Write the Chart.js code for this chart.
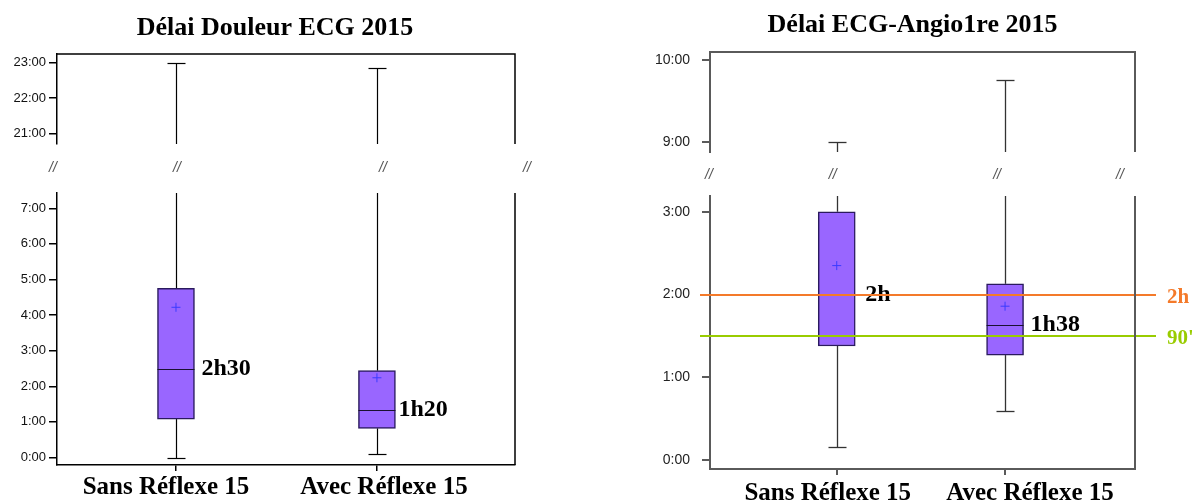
<!DOCTYPE html>
<html lang="fr">
<head>
<meta charset="utf-8">
<title>Délais 2015</title>
<script src="https://cdn.jsdelivr.net/npm/chart.js@4.4.1/dist/chart.umd.min.js"></script>
<style>
  html, body { margin: 0; padding: 0; background: #fff; overflow: hidden; }
  .panel { position: absolute; top: 0; width: 596px; height: 502px; }
  #left { left: 0; }
  #right { left: 596px; }
</style>
</head>
<body>
<div class="panel" id="left"><canvas id="cLeft" width="596" height="502"></canvas></div>
<div class="panel" id="right"><canvas id="cRight" width="596" height="502"></canvas></div>
<script>
// Groupes comparés
const categories = ['Sans Réflexe 15', 'Avec Réflexe 15'];

// Délai douleur -> ECG, en heures
const douleurMin    = [0.00, 0.09];
const douleurQ1     = [1.08, 0.82];
const douleurMedian = [2.50, 1.333];
const douleurQ3     = [4.75, 2.44];
const douleurMax    = [23.00, 22.85];
const douleurMean   = [4.22, 2.24];
const douleurMedianText = ['2h30', '1h20'];
const douleurTicksLow  = [0, 1, 2, 3, 4, 5, 6, 7];
const douleurTicksHigh = [21, 22, 23];

// Délai ECG -> angioplastie primaire, en heures
const angioMin    = [0.16, 0.59];
const angioQ1     = [1.38, 1.27];
const angioMedian = [2.00, 1.633];
const angioQ3     = [3.00, 2.13];
const angioMax    = [9.00, 9.76];
const angioMean   = [2.35, 1.86];
const angioMedianText = ['2h', '1h38'];
const angioTicksLow  = [0, 1, 2, 3];
const angioTicksHigh = [9, 10];
const angioTargetValues = [2, 1.5];
const angioTargetText   = ['2h', "90'"];

const SERIF = "'Liberation Serif', 'Times New Roman', serif";
const SANS = "'Liberation Sans', Arial, sans-serif";

const hourLabel = v => v + ':00';
const fixedTicks = values => scale => { scale.ticks = values.map(v => ({ value: v })); };

// Boîtes à moustaches : moustaches, médianes, libellés, cadre et coupures d'axe
const boxPlotPlugin = {
  id: 'boxPlot',
  beforeDatasetsDraw(chart, args, o) {
    const { ctx, scales: { x, yLow, yHigh } } = chart;
    const seg = (x1, y1, x2, y2) => { ctx.beginPath(); ctx.moveTo(x1, y1); ctx.lineTo(x2, y2); ctx.stroke(); };
    const cap = o.capWidth / 2;
    ctx.save();
    ctx.strokeStyle = o.whiskerColor;
    ctx.lineWidth = o.whiskerWidth;
    o.q3.forEach((q3, i) => {
      const cx = Math.round(x.getPixelForValue(i + 1)) + 0.5;
      const max = o.max[i];
      if (max > yLow.max) {
        seg(cx, yLow.getPixelForValue(q3), cx, yLow.top);
        const py = Math.round(yHigh.getPixelForValue(max)) + 0.5;
        seg(cx, yHigh.bottom, cx, py);
        seg(cx - cap, py, cx + cap, py);
      } else {
        const py = Math.round(yLow.getPixelForValue(max)) + 0.5;
        seg(cx, yLow.getPixelForValue(q3), cx, py);
        seg(cx - cap, py, cx + cap, py);
      }
      const pMin = Math.round(yLow.getPixelForValue(o.min[i])) + 0.5;
      seg(cx, yLow.getPixelForValue(o.q1[i]), cx, pMin);
      seg(cx - cap, pMin, cx + cap, pMin);
    });
    ctx.restore();
  },
  afterDatasetsDraw(chart, args, o) {
    const { ctx, chartArea, scales: { yLow } } = chart;
    const bars = chart.getDatasetMeta(0).data;
    ctx.save();
    // médianes
    ctx.strokeStyle = o.medianColor;
    ctx.lineWidth = 1.2;
    o.median.forEach((m, i) => {
      const bar = bars[i];
      const py = Math.round(yLow.getPixelForValue(m)) + 0.5;
      ctx.beginPath();
      ctx.moveTo(bar.x - bar.width / 2, py);
      ctx.lineTo(bar.x + bar.width / 2, py);
      ctx.stroke();
    });
    // valeurs des médianes
    ctx.fillStyle = '#000';
    ctx.font = 'bold 24px ' + SERIF;
    ctx.textAlign = 'left';
    ctx.textBaseline = 'alphabetic';
    o.median.forEach((m, i) => {
      const bar = bars[i];
      ctx.fillText(o.medianText[i], bar.x + bar.width / 2 + o.labelGap[i], yLow.getPixelForValue(m) + 6);
    });
    // objectifs
    (o.targets || []).forEach(t => {
      const py = Math.round(yLow.getPixelForValue(t.value));
      ctx.strokeStyle = t.color;
      ctx.lineWidth = 2;
      ctx.beginPath();
      ctx.moveTo(chartArea.left - 10, py);
      ctx.lineTo(chartArea.right + 21, py);
      ctx.stroke();
      ctx.fillStyle = t.color;
      ctx.font = 'bold 21px ' + SERIF;
      ctx.fillText(t.text, chartArea.right + 32, py + 8);
    });
    ctx.restore();
  },
  afterDraw(chart, args, o) {
    const { ctx, chartArea, scales: { x, yLow, yHigh } } = chart;
    ctx.save();
    // cadre : bord supérieur et bord droit, interrompu à la coupure
    ctx.strokeStyle = o.frameColor;
    ctx.lineWidth = o.frameWidth;
    ctx.beginPath();
    ctx.moveTo(chartArea.left, yHigh.top);
    ctx.lineTo(chartArea.right, yHigh.top);
    ctx.lineTo(chartArea.right, yHigh.bottom);
    ctx.moveTo(chartArea.right, yLow.top);
    ctx.lineTo(chartArea.right, chartArea.bottom);
    ctx.stroke();
    // marques de coupure
    const midGap = (yHigh.bottom + yLow.top) / 2;
    ctx.fillStyle = '#555';
    ctx.font = 'italic 14px ' + SANS;
    ctx.textAlign = 'center';
    ctx.textBaseline = 'middle';
    const anchors = [chartArea.left, x.getPixelForValue(1), x.getPixelForValue(2), chartArea.right];
    anchors.forEach((ax, i) => ctx.fillText('//', ax + o.breakShift[i], midGap + o.breakDy));
    // titre
    ctx.fillStyle = '#000';
    ctx.font = 'bold 26px ' + SERIF;
    ctx.textBaseline = 'alphabetic';
    ctx.fillText(o.title, o.titleX, o.titleBaseline);
    // libellés des groupes
    ctx.font = 'bold 25px ' + SERIF;
    categories.forEach((c, i) => {
      ctx.fillText(c, x.getPixelForValue(i + 1) + o.catShift[i], o.catBaseline);
    });
    ctx.restore();
  }
};

function buildChart(canvasId, s) {
  const yCommon = (ticks, color) => ({
    type: 'linear',
    position: 'left',
    stack: 'hours',
    afterBuildTicks: fixedTicks(ticks),
    afterFit: sc => { sc.width = s.axisWidth; },
    ticks: { callback: hourLabel, color: s.tickColor, padding: s.tickPadding,
             font: { family: SANS, size: s.tickFont } },
    grid: { drawOnChartArea: false, drawTicks: true, tickLength: 8, color: color, lineWidth: s.frameWidth },
    border: { display: true, color: color, width: s.frameWidth }
  });
  return new Chart(document.getElementById(canvasId), {
    type: 'bar',
    data: {
      datasets: [
        {
          // boîte Q1–Q3
          type: 'bar',
          order: 2,
          data: s.q1.map((q, i) => ({ x: i + 1, y: [q, s.q3[i]] })),
          yAxisID: 'yLow',
          backgroundColor: '#9966ff',
          borderColor: '#2a1a5e',
          borderWidth: 1.5,
          borderSkipped: false,
          barThickness: 37
        },
        {
          // moyenne
          type: 'scatter',
          order: 1,
          data: s.mean.map((m, i) => ({ x: i + 1, y: m })),
          yAxisID: 'yLow',
          pointStyle: 'cross',
          pointRadius: 4.5,
          pointBorderColor: '#3b3bff',
          borderColor: '#3b3bff',
          backgroundColor: '#3b3bff',
          pointBorderWidth: 1,
          borderWidth: 1
        }
      ]
    },
    options: {
      responsive: false,
      animation: false,
      events: [],
      layout: { padding: { top: s.padTop, right: s.padRight, left: 0, bottom: 0 } },
      plugins: {
        legend: { display: false },
        tooltip: { enabled: false },
        boxPlot: {
          q1: s.q1, q3: s.q3, min: s.min, max: s.max, median: s.median, medianText: s.medianText,
          targets: s.targets, capWidth: 18, whiskerColor: s.whiskerColor, whiskerWidth: s.whiskerWidth,
          medianColor: '#1a1030', labelGap: s.labelGap, frameColor: s.frameColor, frameWidth: s.frameWidth,
          breakShift: s.breakShift, breakDy: s.breakDy, title: s.title, titleX: s.titleX,
          titleBaseline: s.titleBaseline, catShift: s.catShift, catBaseline: s.catBaseline
        }
      },
      scales: {
        x: {
          type: 'linear',
          min: s.xRange[0], max: s.xRange[1],
          offset: false,
          afterBuildTicks: fixedTicks([1, 2]),
          afterFit: sc => { sc.height = s.xHeight; },
          ticks: { display: false },
          grid: { offset: false, drawOnChartArea: false, drawTicks: true, tickLength: s.xTick,
                  color: s.frameColor, lineWidth: s.frameWidth },
          border: { color: s.frameColor, width: s.frameWidth }
        },
        yLow: Object.assign(yCommon(s.ticksLow, s.frameColor),
          { min: s.lowRange[0], max: s.lowRange[1], stackWeight: s.weights[2] }),
        yGap: {
          type: 'linear', position: 'left', stack: 'hours', stackWeight: s.weights[1],
          min: 0, max: 1,
          afterFit: sc => { sc.width = s.axisWidth; },
          ticks: { display: false },
          grid: { display: false },
          border: { display: false }
        },
        yHigh: Object.assign(yCommon(s.ticksHigh, s.frameColor),
          { min: s.highRange[0], max: s.highRange[1], stackWeight: s.weights[0] })
      }
    },
    plugins: [boxPlotPlugin]
  });
}

buildChart('cLeft', {
  q1: douleurQ1, q3: douleurQ3, min: douleurMin, max: douleurMax, median: douleurMedian,
  mean: douleurMean, medianText: douleurMedianText,
  ticksLow: douleurTicksLow, ticksHigh: douleurTicksHigh,
  lowRange: [-0.21, 7.43], highRange: [20.70, 23.25], xRange: [0.408, 2.687],
  weights: [90, 49, 272],
  padTop: 54, padRight: 81, axisWidth: 57, xHeight: 37, xTick: 6,
  tickColor: '#111', tickPadding: 3, tickFont: 13,
  frameColor: '#000', frameWidth: 1.5, whiskerColor: '#000', whiskerWidth: 1.2,
  labelGap: [7, 3],
  breakShift: [-4, 1, 6, 12], breakDy: 0,
  title: 'Délai Douleur ECG 2015', titleX: 275, titleBaseline: 35,
  catShift: [-10, 7], catBaseline: 494
});

buildChart('cRight', {
  q1: angioQ1, q3: angioQ3, min: angioMin, max: angioMax, median: angioMedian,
  mean: angioMean, medianText: angioMedianText,
  ticksLow: angioTicksLow, ticksHigh: angioTicksHigh,
  targets: angioTargetValues.map((v, i) => ({ value: v, text: angioTargetText[i], color: ['#f47a2a', '#99cc00'][i] })),
  lowRange: [-0.105, 3.19], highRange: [8.88, 10.10], xRange: [0.247, 2.772],
  weights: [100, 44, 273],
  padTop: 52, padRight: 57, axisWidth: 114, xHeight: 33, xTick: 6,
  tickColor: '#222', tickPadding: 12, tickFont: 14,
  frameColor: '#5a5a5a', frameWidth: 2, whiskerColor: '#333', whiskerWidth: 1.3,
  labelGap: [10, 7],
  breakShift: [-1, -4, -8, -15], breakDy: 1.5,
  title: 'Délai ECG-Angio1re 2015', titleX: 316.5, titleBaseline: 32,
  catShift: [-9, 25], catBaseline: 500
});
</script>
</body>
</html>
